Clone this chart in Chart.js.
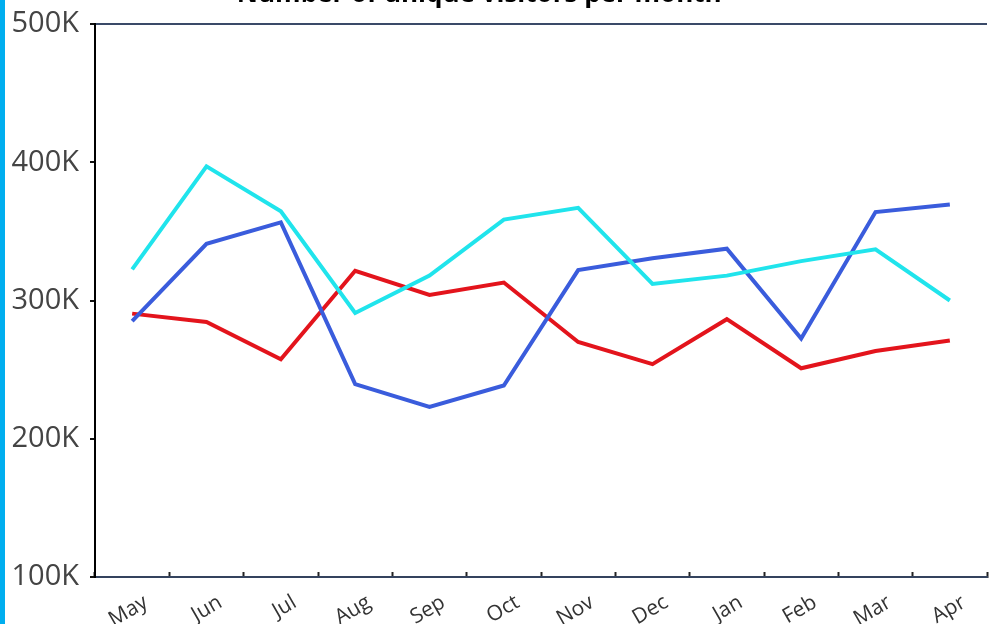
<!DOCTYPE html>
<html>
<head>
<meta charset="utf-8">
<script src="https://cdn.jsdelivr.net/npm/chart.js@4"></script>
<style>
  html, body { margin: 0; padding: 0; background: #fff; overflow: hidden; }
  #wrap { position: relative; width: 997px; height: 624px; }
  #edge { position: absolute; left: 0; top: 0; width: 5px; height: 624px; background: #00aeef; }
</style>
</head>
<body>
<div id="wrap">
  <canvas id="myChart" width="997" height="624"></canvas>
  <div id="edge"></div>
</div>
<script>
const months = ['May', 'Jun', 'Jul', 'Aug', 'Sep', 'Oct', 'Nov', 'Dec', 'Jan', 'Feb', 'Mar', 'Apr'];

// monthly unique visitors, three sites
const cyanVisitors = [322500, 397000, 364500, 291000, 318000, 358500, 367000, 312000, 318000, 328500, 337000, 300000];
const blueVisitors = [285000, 341000, 356500, 239500, 223000, 238500, 322000, 330500, 337500, 272500, 364000, 369500];
const redVisitors  = [290500, 284500, 257500, 321500, 304000, 313000, 270000, 254000, 286500, 251000, 263500, 271000];

const yTicks = [100000, 200000, 300000, 400000, 500000];

let ctx = document.getElementById('myChart').getContext('2d');

new Chart(ctx, {
    type: 'line',
    data: {
        labels: months,
        datasets: [
            { label: 'Cyan', data: cyanVisitors, borderColor: '#20e4ec' },
            { label: 'Blue', data: blueVisitors, borderColor: '#3a5cdc' },
            { label: 'Red', data: redVisitors, borderColor: '#e3141c' }
        ]
    },
    options: {
        responsive: false,
        animation: false,
        layout: { padding: { left: 12, right: 10, top: 0, bottom: 0 } },
        elements: {
            line: { borderWidth: 4, tension: 0 },
            point: { radius: 0 }
        },
        plugins: {
            legend: { display: false },
            tooltip: { enabled: false },
            title: {
                display: true,
                // trailing spaces nudge the centred title a little left
                text: 'Number of unique visitors per month\u00a0\u00a0\u00a0\u00a0\u00a0\u00a0',
                color: '#000',
                font: { family: 'Open Sans', size: 26, weight: 'bold' },
                padding: { top: -21.5, bottom: 14.3 }
            }
        },
        scales: {
            x: {
                offset: true,
                grid: {
                    offset: true,
                    drawOnChartArea: false,
                    tickLength: -5,
                    tickColor: '#222',
                    tickWidth: 2
                },
                border: { color: '#34435e', width: 2 },
                ticks: {
                    minRotation: 30,
                    maxRotation: 30,
                    padding: 18,
                    labelOffset: 14,
                    color: '#333',
                    font: { family: 'Open Sans', size: 21 }
                },
                afterFit: (scale) => { scale.height = 47; }
            },
            y: {
                min: 100000,
                max: 500000,
                afterBuildTicks: (scale) => { scale.ticks = yTicks.map(v => ({ value: v })); },
                afterFit: (scale) => {
                    scale.width = 83;
                    scale.paddingTop = 0;
                    scale.paddingBottom = 0;
                },
                grid: {
                    color: (c) => c.tick && c.tick.value === 500000 ? '#3a4a68' : 'transparent',
                    lineWidth: 2,
                    tickLength: 5,
                    tickColor: '#111',
                    tickWidth: 2
                },
                border: { color: '#000', width: 2 },
                ticks: {
                    padding: 11,
                    color: '#444',
                    font: { family: 'Open Sans', size: 29 },
                    callback: (v) => (v / 1000) + 'K'
                }
            }
        }
    }
});
</script>
</body>
</html>
